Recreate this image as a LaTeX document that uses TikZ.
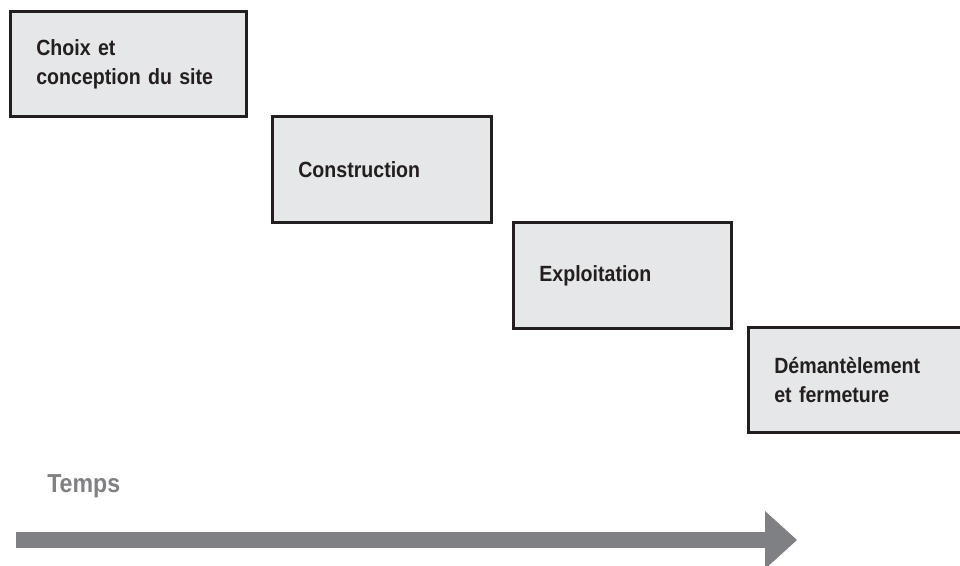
\documentclass[tikz,border=0pt]{standalone}
\usepackage{fontspec}
\usepackage{tikz}
\usetikzlibrary{positioning,arrows.meta}
\newfontfamily\stagefont[FakeStretch=0.89, WordSpace=0.75]{Liberation Sans}
\definecolor{boxfill}{HTML}{E6E7E8}
\definecolor{boxline}{HTML}{231F20}
\definecolor{timegray}{HTML}{7F8083}
\tikzstyle{stage} = [draw=boxline, fill=boxfill, line width=2pt,
    rectangle, inner xsep=19.5pt, align=left, text=boxline,
    font=\stagefont\bfseries\fontsize{16.5}{21.75}\selectfont]
\tikzstyle{timeline} = [draw=timegray, line width=12pt,
    -{Triangle[length=24pt, width=43.5pt, line width=0pt]}]

\begin{document}
\begin{tikzpicture}[x=0.75pt, y=-0.75pt]
\useasboundingbox (0,0) rectangle (960,565);
\clip (0,0) rectangle (960,565);

\node [stage, anchor=north west, text width=138.25pt, minimum height=79pt]
    (choix) at (9,10) {Choix et\\conception du site};

\node [stage, anchor=north west, text width=125.5pt, minimum height=79.75pt]
    (constr) at ([xshift=17.25pt, yshift=2.25pt] choix.south east) {Construction};

\node [stage, anchor=north west, text width=124.75pt, minimum height=79.75pt]
    (exploit) at ([xshift=14.25pt, yshift=2.25pt] constr.south east) {Exploitation};

\node [stage, anchor=north west, text width=124.75pt, minimum height=79pt]
    (demant) at ([xshift=10.5pt, yshift=3pt] exploit.south east) {Démantèlement\\et fermeture};

\node [anchor=base west, inner sep=0pt, text=timegray,
    font=\stagefont\bfseries\fontsize{19.5}{24}\selectfont]
    (temps) at (47,492) {Temps};

\coordinate (tstart) at (16,540);
\coordinate (tend) at (797,540);
\draw [timeline] (tstart) -- (tend);

\end{tikzpicture}
\end{document}
